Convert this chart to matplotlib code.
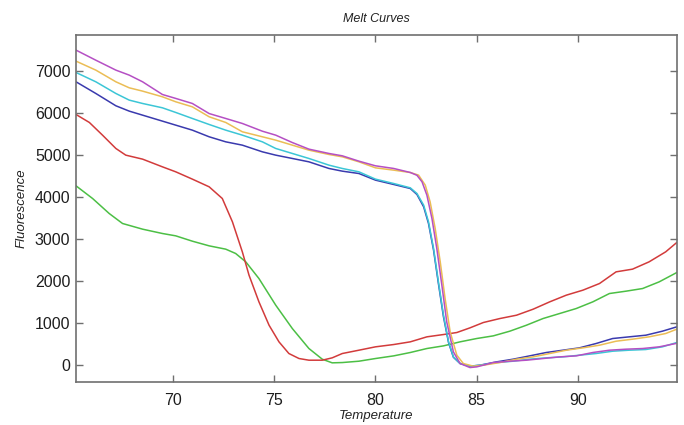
import matplotlib
matplotlib.use("Agg")
import matplotlib.pyplot as plt

plt.rcParams['font.family'] = ['Liberation Sans', 'DejaVu Sans']

# Temperatures (deg C)
t_left = [65.20, 66.18, 67.17, 67.83, 68.49, 69.47, 70.13, 70.95, 71.78, 72.60,
          73.42, 74.41, 75.07, 75.89, 76.71, 77.70, 78.36, 79.18, 80.00]
t_right_hi = [80.90, 81.72]

# Purple
purple_t = t_left + t_right_hi + [82.05, 82.30, 82.54, 82.79, 83.03, 83.28, 83.52, 83.85,
                                  84.18, 84.67, 85.00, 85.82, 86.64, 87.46, 88.28, 89.10,
                                  89.92, 90.74, 91.56, 92.38, 93.20, 94.02, 94.84]
purple_f = [7500, 7260, 7024, 6905, 6746, 6444, 6350, 6230, 5990, 5873,
            5754, 5570, 5476, 5300, 5143, 5040, 4984, 4857, 4746,
            4683, 4587, 4520, 4365, 4048, 3492, 2778, 1905, 1032, 317,
            40, -56, -40, 63, 95, 119, 159, 198, 222, 302, 357, 381, 397, 437, 516]

# Orange
orange_t = t_left + t_right_hi + [82.13, 82.46, 82.70, 82.95, 83.20, 83.44, 83.69, 84.02,
                                  84.34, 84.84, 85.33, 86.15, 86.97, 87.79, 88.61, 89.43,
                                  90.25, 91.07, 91.89, 92.70, 93.52, 94.34, 94.89]
orange_f = [7238, 7024, 6746, 6603, 6524, 6389, 6270, 6150, 5913, 5778,
            5556, 5437, 5357, 5238, 5119, 5016, 4960, 4841, 4698,
            4643, 4587, 4524, 4286, 3889, 3254, 2460, 1587, 794, 238,
            40, -24, 0, 63, 143, 198, 278, 357, 413, 476, 571, 619, 675, 754, 857]

# Cyan
cyan_t = t_left + t_right_hi + [82.05, 82.38, 82.62, 82.87, 83.11, 83.36, 83.61, 83.85,
                                84.18, 84.67, 85.16, 85.98, 86.80, 87.62, 88.44, 89.26,
                                90.08, 90.90, 91.72, 92.54, 93.36, 94.18, 94.89]
cyan_f = [6968, 6746, 6468, 6310, 6230, 6127, 6016, 5873, 5730, 5595,
          5476, 5317, 5159, 5040, 4921, 4762, 4683, 4603, 4429,
          4325, 4222, 4087, 3810, 3413, 2778, 1984, 1190, 556, 198,
          40, -24, 0, 63, 95, 143, 175, 198, 238, 278, 333, 357, 373, 437, 540]

# Blue
blue_t = cyan_t
blue_f = [6746, 6468, 6175, 6048, 5952, 5810, 5714, 5595, 5437, 5317,
          5238, 5079, 5000, 4921, 4841, 4683, 4619, 4563, 4405,
          4302, 4206, 4063, 3770, 3373, 2738, 1944, 1151, 540, 190,
          40, -24, 0, 79, 143, 222, 302, 357, 413, 516, 635, 675, 714, 810, 913]

# Red
red_t = [65.20, 65.86, 66.51, 67.17, 67.66, 68.49, 69.47, 70.13, 70.95, 71.78,
         72.43, 72.93, 73.42, 73.75, 74.24, 74.74, 75.23, 75.72, 76.22, 76.71,
         77.37, 77.86, 78.36, 79.18, 80.00, 80.90, 81.72, 82.54, 83.36, 84.02,
         84.67, 85.33, 86.15, 86.97, 87.79, 88.61, 89.43, 90.25, 91.07, 91.89,
         92.70, 93.52, 94.34, 94.89]
red_f = [5968, 5778, 5476, 5159, 5000, 4905, 4722, 4603, 4429, 4246,
         3968, 3413, 2698, 2143, 1508, 952, 556, 278, 159, 119,
         119, 175, 278, 357, 437, 492, 556, 675, 730, 778,
         889, 1016, 1111, 1190, 1333, 1508, 1667, 1786, 1944, 2222,
         2286, 2460, 2698, 2921]

# Green
green_t = [65.20, 66.02, 66.84, 67.50, 68.49, 69.47, 70.13, 70.95, 71.78, 72.60,
           73.09, 73.59, 74.24, 75.07, 75.89, 76.71, 77.37, 77.86, 78.36, 79.18,
           80.00, 80.90, 81.72, 82.54, 83.36, 84.18, 85.00, 85.82, 86.64, 87.46,
           88.28, 89.10, 89.92, 90.74, 91.56, 92.38, 93.20, 94.02, 94.89]
green_f = [4270, 3968, 3611, 3373, 3238, 3135, 3079, 2952, 2841, 2762,
           2659, 2460, 2063, 1429, 873, 397, 143, 56, 63, 95,
           159, 222, 302, 397, 460, 556, 635, 698, 810, 952,
           1111, 1230, 1349, 1508, 1706, 1762, 1825, 1984, 2206]

series = [
    (green_t, green_f, '#4cbf45'),
    (red_t, red_f, '#d23b3b'),
    (blue_t, blue_f, '#3a3aae'),
    (cyan_t, cyan_f, '#3cc6d6'),
    (orange_t, orange_f, '#ebbd55'),
    (purple_t, purple_f, '#b54fc4'),
]

x_ticks = [70, 75, 80, 85, 90]
y_ticks = [0, 1000, 2000, 3000, 4000, 5000, 6000, 7000]

fig = plt.figure(figsize=(6.84, 4.25), dpi=100)
ax = fig.add_axes([76 / 684, 1 - 382 / 425, (677 - 76) / 684, (382 - 35) / 425])

for t, f, c in series:
    ax.plot(t, f, color=c, lw=1.1, solid_joinstyle='round', solid_capstyle='round')

ax.set_xlim(65.2, 94.9)
ax.set_ylim(-400, 7860)
ax.set_xticks(x_ticks)
ax.set_yticks(y_ticks)
ax.tick_params(direction='in', length=5, width=1, color='#6f6f6f',
               top=True, right=True, labelsize=11.5, labelcolor='#1e1e1e')
ax.tick_params(axis='x', pad=8)
ax.tick_params(axis='y', pad=4)
for s in ax.spines.values():
    s.set_color('#6f6f6f')
    s.set_linewidth(1.2)

ax.set_title('Melt Curves', fontsize=9, style='italic', pad=9, color='#222222')
ax.set_xlabel('Temperature', fontsize=9.5, style='italic', labelpad=1, color='#222222')
ax.set_ylabel('Fluorescence', fontsize=9.5, style='italic', labelpad=5, color='#222222')

fig.savefig('out.png', dpi=100)
